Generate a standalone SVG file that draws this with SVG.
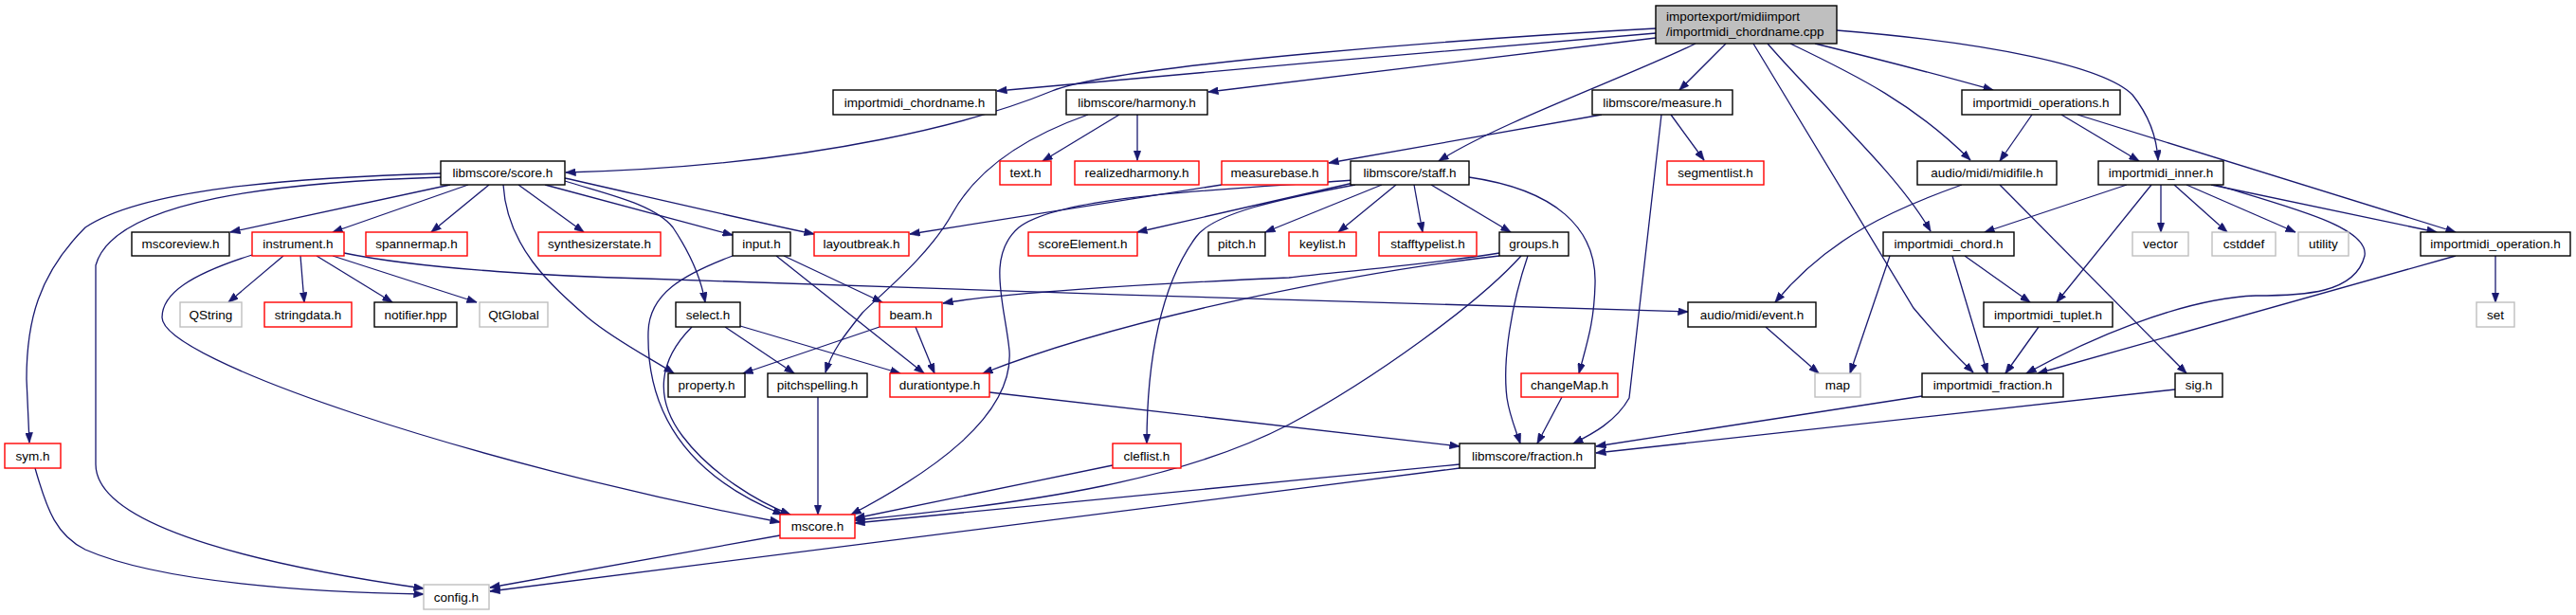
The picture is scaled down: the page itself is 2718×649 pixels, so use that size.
<svg xmlns="http://www.w3.org/2000/svg" width="2718" height="649" viewBox="0 0 2718 649">
<style>
rect{fill:#fff;stroke-width:1.4}
.k{stroke:#000}
.r{stroke:#ff0000}
.g{stroke:#bfbfbf}
text{font-family:"Liberation Sans",Arial,sans-serif;font-size:13.5px;fill:#000;text-anchor:middle}
#edges path{fill:none;stroke:#191970;stroke-width:1.3;marker-end:url(#ah)}
</style>
<defs>
<marker id="ah" viewBox="0 0 11 8" markerWidth="11" markerHeight="8" refX="10.5" refY="4" orient="auto" markerUnits="userSpaceOnUse">
<path d="M0,0 L11,4 L0,8 z" fill="#191970" stroke="#191970" stroke-width="0.5"/>
</marker>
</defs>
<rect x="0" y="0" width="2718" height="649" style="fill:#fff;stroke:none"/>
<g id="edges">
<path d="M1747,35 C1550,52 1250,77 1052,96"/>
<path d="M1747,40 L1275,97"/>
<path d="M1747,30 C1560,40 1180,68 1110,96 C1040,125 870,175 597,182"/>
<path d="M1789,46 C1720,80 1580,130 1518,170"/>
<path d="M1821,46 L1772,95"/>
<path d="M1850,46 L2019,325 Q2050,362 2082,393"/>
<path d="M1865,46 C1920,110 2000,180 2037,244"/>
<path d="M1889,46 C1960,80 2020,110 2079,169"/>
<path d="M1915,46 C1980,62 2050,80 2103,95"/>
<path d="M1938,32 C2100,45 2220,70 2250,100 C2270,125 2276,150 2277,169"/>
<path d="M1181,121 L1100,170"/>
<path d="M1200,121 L1200,169"/>
<path d="M1148,121 C1080,145 1030,180 1005,225 C980,270 930,310 910,330 C890,355 878,370 871,393"/>
<path d="M1690,121 L1402,172"/>
<path d="M1763,121 L1798,169"/>
<path d="M1753,121 L1719,420 C1705,445 1680,458 1660,468"/>
<path d="M1289,195 L960,247"/>
<path d="M475,195 L243,245"/>
<path d="M494,195 L351,245"/>
<path d="M516,195 L455,245"/>
<path d="M547,195 L616,245"/>
<path d="M466,183 C300,188 150,200 90,240 C40,290 28,340 28,400 L31,467"/>
<path d="M466,187 C300,192 120,210 101,280 L101,490 C101,560 300,600 447,621"/>
<path d="M37,494 C50,540 60,565 90,580 C170,615 330,625 447,627"/>
<path d="M531,195 C535,260 580,300 620,335 C650,360 690,380 711,394"/>
<path d="M575,195 L773,248"/>
<path d="M596,188 C650,200 800,235 859,247"/>
<path d="M596,191 C640,205 690,215 710,240 C730,270 740,295 744,319"/>
<path d="M299,270 L241,319"/>
<path d="M317,270 L321,319"/>
<path d="M334,270 L414,319"/>
<path d="M351,270 L503,319"/>
<path d="M363,267 C450,285 600,292 680,294 C1000,305 1500,322 1781,329"/>
<path d="M266,269 C200,290 171,310 171,335 C171,380 500,490 823,551"/>
<path d="M773,270 C720,290 685,310 684,350 C682,430 720,500 826,543"/>
<path d="M730,345 C695,380 690,420 720,460 C750,500 800,530 834,543"/>
<path d="M827,270 L931,319"/>
<path d="M819,270 L975,394"/>
<path d="M765,345 L838,394"/>
<path d="M781,344 L950,394"/>
<path d="M928,345 L784,394"/>
<path d="M966,345 L986,394"/>
<path d="M863,419 L863,543"/>
<path d="M1044,414 L1540,471"/>
<path d="M1174,491 L902,547"/>
<path d="M1430,195 C1350,210 1280,225 1262,250 C1225,300 1210,380 1210,468"/>
<path d="M1428,190 C1300,200 1120,205 1075,240 C1040,270 1060,320 1065,370 C1070,440 980,500 898,543"/>
<path d="M1428,193 L1200,245"/>
<path d="M1458,195 L1335,245"/>
<path d="M1473,195 L1412,245"/>
<path d="M1492,195 L1501,245"/>
<path d="M1510,195 L1594,245"/>
<path d="M1550,187 C1640,200 1685,240 1683,300 C1682,340 1675,360 1666,394"/>
<path d="M1582,267 C1500,280 1400,288 1360,293 C1200,300 1050,310 995,320"/>
<path d="M1582,270 C1450,285 1200,330 1037,394"/>
<path d="M1605,270 C1560,320 1450,400 1360,448 C1250,505 1100,530 902,549"/>
<path d="M1612,270 C1595,320 1585,380 1590,420 C1593,440 1600,455 1604,468"/>
<path d="M1648,419 L1622,468"/>
<path d="M2028,418 L1684,471"/>
<path d="M2295,411 L1684,478"/>
<path d="M1540,490 L902,552"/>
<path d="M1540,494 L517,624"/>
<path d="M823,565 L517,620"/>
<path d="M2070,195 C2000,220 1930,250 1873,319"/>
<path d="M2110,195 L2307,394"/>
<path d="M1863,345 L1919,394"/>
<path d="M2144,121 L2110,170"/>
<path d="M2175,121 L2257,170"/>
<path d="M2192,121 L2591,245"/>
<path d="M2244,195 L2094,245"/>
<path d="M2270,195 L2170,319"/>
<path d="M2280,195 L2280,245"/>
<path d="M2294,195 L2350,245"/>
<path d="M2307,195 L2422,245"/>
<path d="M2333,195 L2571,245"/>
<path d="M2338,195 C2420,220 2500,240 2495,270 C2485,310 2430,312 2380,312 C2300,315 2200,360 2138,394"/>
<path d="M2633,270 L2633,319"/>
<path d="M2591,270 L2150,394"/>
<path d="M1994,270 L1952,394"/>
<path d="M2060,270 L2097,394"/>
<path d="M2073,270 L2142,319"/>
<path d="M2151,345 L2116,394"/>
</g>
<g id="root"><rect class="k" x="1747" y="6" width="191" height="40" style="fill:#bfbfbf"/><text x="1758" y="22" style="text-anchor:start">importexport/midiimport</text><text x="1758" y="37.5" style="text-anchor:start">/importmidi_chordname.cpp</text></g>
<g id="n_chordname_h"><rect class="k" x="879" y="95" width="172" height="26"/><text x="965" y="112.5">importmidi_chordname.h</text></g>
<g id="n_harmony"><rect class="k" x="1125" y="95" width="149" height="26"/><text x="1199.5" y="112.5">libmscore/harmony.h</text></g>
<g id="n_measure"><rect class="k" x="1680" y="95" width="148" height="26"/><text x="1754" y="112.5">libmscore/measure.h</text></g>
<g id="n_operations"><rect class="k" x="2070" y="95" width="167" height="26"/><text x="2153.5" y="112.5">importmidi_operations.h</text></g>
<g id="n_score"><rect class="k" x="465" y="170" width="131" height="25"/><text x="530.5" y="187">libmscore/score.h</text></g>
<g id="n_text"><rect class="r" x="1055" y="170" width="54" height="25"/><text x="1082" y="187">text.h</text></g>
<g id="n_realizedharmony"><rect class="r" x="1134" y="170" width="131" height="25"/><text x="1199.5" y="187">realizedharmony.h</text></g>
<g id="n_measurebase"><rect class="r" x="1289" y="170" width="112" height="25"/><text x="1345" y="187">measurebase.h</text></g>
<g id="n_staff"><rect class="k" x="1425" y="170" width="125" height="25"/><text x="1487.5" y="187">libmscore/staff.h</text></g>
<g id="n_segmentlist"><rect class="r" x="1759" y="170" width="102" height="25"/><text x="1810" y="187">segmentlist.h</text></g>
<g id="n_midifile"><rect class="k" x="2023" y="170" width="147" height="25"/><text x="2096.5" y="187">audio/midi/midifile.h</text></g>
<g id="n_inner"><rect class="k" x="2214" y="170" width="132" height="25"/><text x="2280" y="187">importmidi_inner.h</text></g>
<g id="n_mscoreview"><rect class="k" x="139" y="245" width="103" height="25"/><text x="190.5" y="262">mscoreview.h</text></g>
<g id="n_instrument"><rect class="r" x="266" y="245" width="97" height="25"/><text x="314.5" y="262">instrument.h</text></g>
<g id="n_spannermap"><rect class="r" x="386" y="245" width="107" height="25"/><text x="439.5" y="262">spannermap.h</text></g>
<g id="n_synthesizerstate"><rect class="r" x="568" y="245" width="129" height="25"/><text x="632.5" y="262">synthesizerstate.h</text></g>
<g id="n_input"><rect class="k" x="773" y="245" width="61" height="25"/><text x="803.5" y="262">input.h</text></g>
<g id="n_layoutbreak"><rect class="r" x="859" y="245" width="100" height="25"/><text x="909" y="262">layoutbreak.h</text></g>
<g id="n_scoreElement"><rect class="r" x="1085" y="245" width="115" height="25"/><text x="1142.5" y="262">scoreElement.h</text></g>
<g id="n_pitch"><rect class="k" x="1275" y="245" width="60" height="25"/><text x="1305" y="262">pitch.h</text></g>
<g id="n_keylist"><rect class="r" x="1360" y="245" width="71" height="25"/><text x="1395.5" y="262">keylist.h</text></g>
<g id="n_stafftypelist"><rect class="r" x="1455" y="245" width="103" height="25"/><text x="1506.5" y="262">stafftypelist.h</text></g>
<g id="n_groups"><rect class="k" x="1582" y="245" width="73" height="25"/><text x="1618.5" y="262">groups.h</text></g>
<g id="n_chord"><rect class="k" x="1987" y="245" width="138" height="25"/><text x="2056" y="262">importmidi_chord.h</text></g>
<g id="n_vector"><rect class="g" x="2250" y="245" width="59" height="25"/><text x="2279.5" y="262">vector</text></g>
<g id="n_cstddef"><rect class="g" x="2334" y="245" width="67" height="25"/><text x="2367.5" y="262">cstddef</text></g>
<g id="n_utility"><rect class="g" x="2425" y="245" width="53" height="25"/><text x="2451.5" y="262">utility</text></g>
<g id="n_operation"><rect class="k" x="2554" y="245" width="158" height="25"/><text x="2633" y="262">importmidi_operation.h</text></g>
<g id="n_QString"><rect class="g" x="190" y="319" width="65" height="26"/><text x="222.5" y="336.5">QString</text></g>
<g id="n_stringdata"><rect class="r" x="279" y="319" width="92" height="26"/><text x="325" y="336.5">stringdata.h</text></g>
<g id="n_notifier"><rect class="k" x="395" y="319" width="87" height="26"/><text x="438.5" y="336.5">notifier.hpp</text></g>
<g id="n_QtGlobal"><rect class="g" x="506" y="319" width="72" height="26"/><text x="542" y="336.5">QtGlobal</text></g>
<g id="n_select"><rect class="k" x="713" y="319" width="68" height="26"/><text x="747" y="336.5">select.h</text></g>
<g id="n_beam"><rect class="r" x="928" y="319" width="66" height="26"/><text x="961" y="336.5">beam.h</text></g>
<g id="n_event"><rect class="k" x="1781" y="319" width="135" height="26"/><text x="1848.5" y="336.5">audio/midi/event.h</text></g>
<g id="n_tuplet"><rect class="k" x="2093" y="319" width="136" height="26"/><text x="2161" y="336.5">importmidi_tuplet.h</text></g>
<g id="n_set"><rect class="g" x="2613" y="319" width="40" height="26"/><text x="2633" y="336.5">set</text></g>
<g id="n_property"><rect class="k" x="705" y="394" width="81" height="25"/><text x="745.5" y="411">property.h</text></g>
<g id="n_pitchspelling"><rect class="k" x="810" y="394" width="105" height="25"/><text x="862.5" y="411">pitchspelling.h</text></g>
<g id="n_durationtype"><rect class="r" x="939" y="394" width="105" height="25"/><text x="991.5" y="411">durationtype.h</text></g>
<g id="n_changeMap"><rect class="r" x="1605" y="394" width="102" height="25"/><text x="1656" y="411">changeMap.h</text></g>
<g id="n_map"><rect class="g" x="1915" y="394" width="48" height="25"/><text x="1939" y="411">map</text></g>
<g id="n_ifraction"><rect class="k" x="2028" y="394" width="149" height="25"/><text x="2102.5" y="411">importmidi_fraction.h</text></g>
<g id="n_sig"><rect class="k" x="2295" y="394" width="50" height="25"/><text x="2320" y="411">sig.h</text></g>
<g id="n_sym"><rect class="r" x="5" y="468" width="59" height="26"/><text x="34.5" y="485.5">sym.h</text></g>
<g id="n_cleflist"><rect class="r" x="1174" y="468" width="72" height="26"/><text x="1210" y="485.5">cleflist.h</text></g>
<g id="n_fraction"><rect class="k" x="1540" y="468" width="143" height="26"/><text x="1611.5" y="485.5">libmscore/fraction.h</text></g>
<g id="n_mscore"><rect class="r" x="823" y="543" width="79" height="25"/><text x="862.5" y="560">mscore.h</text></g>
<g id="n_config"><rect class="g" x="447" y="617" width="69" height="26"/><text x="481.5" y="634.5">config.h</text></g>
</svg>
